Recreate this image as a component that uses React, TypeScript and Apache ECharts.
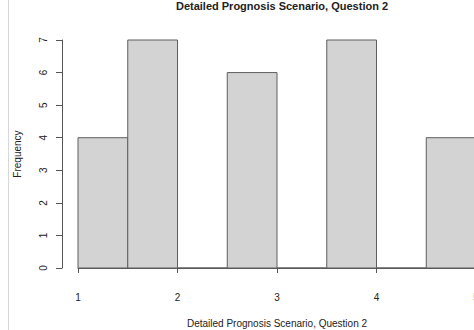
import React, { useEffect, useRef } from "react";
import * as echarts from "echarts";

// Histogram bins: [start, end) and counts
const binStarts = [1, 1.5, 2, 2.5, 3, 3.5, 4, 4.5];
const binEnds = [1.5, 2, 2.5, 3, 3.5, 4, 4.5, 5];
const counts = [4, 7, 0, 6, 0, 7, 0, 4];
const xTicks = [1, 2, 3, 4, 5];
const yTicks = [0, 1, 2, 3, 4, 5, 6, 7];

const titleText = "Detailed Prognosis Scenario, Question 2";
const xTitle = "Detailed Prognosis Scenario, Question 2";
const yTitle = "Frequency";

export default function App() {
  const ref = useRef<HTMLDivElement>(null);

  useEffect(() => {
    if (!ref.current) return;
    const chart = echarts.init(ref.current, null, { renderer: "svg" });
    const font = "'Liberation Sans', Arial, Helvetica, sans-serif";
    const axisColor = "#555";
    const textColor = "#222";

    chart.setOption({
      animation: false,
      backgroundColor: "#fff",
      textStyle: { fontFamily: font },
      title: {
        text: titleText,
        left: 277,
        top: -5,
        textAlign: "center",
        textStyle: { fontSize: 11, fontWeight: "bold", color: textColor, fontFamily: font },
      },
      grid: {
        left: 78,
        width: 398,
        top: 40,
        height: 228,
        containLabel: false,
        outerBoundsMode: "none",
      },
      xAxis: {
        type: "value",
        min: 1,
        max: 5,
        interval: 1,
        offset: 10,
        name: xTitle,
        nameLocation: "middle",
        nameGap: 40,
        nameTextStyle: { fontSize: 10, color: textColor, fontFamily: font },
        splitLine: { show: false },
        axisLine: { show: true, lineStyle: { color: axisColor, width: 1 } },
        axisTick: { show: true, length: 5, lineStyle: { color: axisColor } },
        axisLabel: {
          fontSize: 10,
          color: textColor,
          margin: 14,
          fontFamily: font,
          showMinLabel: true,
          showMaxLabel: true,
          formatter: (v: number) => (xTicks.includes(v) ? String(v) : ""),
        },
      },
      yAxis: {
        type: "value",
        min: 0,
        max: 7,
        interval: 1,
        offset: 16,
        name: yTitle,
        nameLocation: "middle",
        nameGap: 40,
        nameRotate: 90,
        nameTextStyle: { fontSize: 10, color: textColor, fontFamily: font },
        splitLine: { show: false },
        axisLine: { show: true, lineStyle: { color: axisColor, width: 1 } },
        axisTick: { show: true, length: 6, lineStyle: { color: axisColor } },
        axisLabel: {
          fontSize: 10,
          color: textColor,
          rotate: 90,
          margin: 14,
          fontFamily: font,
          formatter: (v: number) => (yTicks.includes(v) ? String(v) : ""),
        },
      },
      graphic: [
        {
          type: "line",
          shape: { x1: 8.5, y1: 0, x2: 8.5, y2: 330 },
          style: { stroke: "#d8d8d8", lineWidth: 1 },
          silent: true,
        },
      ],
      series: [
        {
          type: "custom",
          clip: false,
          data: counts.map((c, i) => [binStarts[i], binEnds[i], c]),
          renderItem: (params: any, api: any) => {
            const p0 = api.coord([api.value(0), 0]);
            const p1 = api.coord([api.value(1), api.value(2)]);
            return {
              type: "rect",
              shape: {
                x: p0[0],
                y: p1[1],
                width: p1[0] - p0[0],
                height: p0[1] - p1[1],
              },
              style: { fill: "#d3d3d3", stroke: "#5e5e5e", lineWidth: 1 },
            };
          },
        },
      ],
    });

    return () => chart.dispose();
  }, []);

  return (
    <div
      ref={ref}
      style={{ position: "fixed", left: 0, top: 0, width: 474, height: 330 }}
    />
  );
}
